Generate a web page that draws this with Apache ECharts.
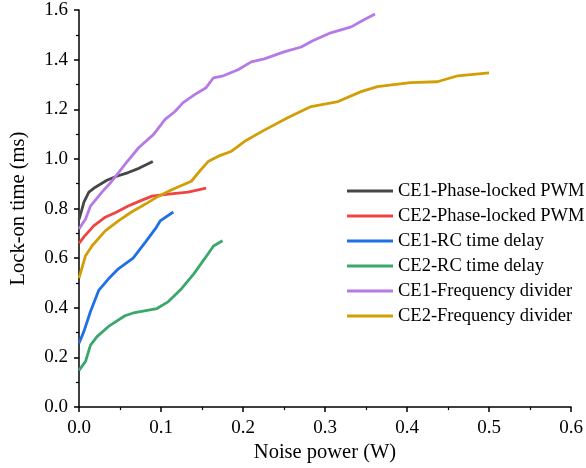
<!DOCTYPE html>
<html>
<head>
<meta charset="utf-8">
<script src="https://cdn.jsdelivr.net/npm/echarts@6/dist/echarts.min.js"></script>
<style>
  html, body { margin: 0; padding: 0; background: #fff; }
  #chart { width: 586px; height: 468px; }
</style>
</head>
<body>
<div id="chart"></div>
<script>
// series names, in legend order
const seriesNames = [
  'CE1-Phase-locked PWM',
  'CE2-Phase-locked PWM',
  'CE1-RC time delay',
  'CE2-RC time delay',
  'CE1-Frequency divider',
  'CE2-Frequency divider'
]

// [noise power (W), lock-on time (ms)]
const ce1Pwm = [[0, 0.755], [0.003, 0.79], [0.006, 0.826], [0.012, 0.866], [0.02, 0.886], [0.034, 0.914],
  [0.046, 0.93], [0.06, 0.945], [0.073, 0.962], [0.09, 0.99]]
const ce2Pwm = [[0, 0.66], [0.006, 0.686], [0.018, 0.73], [0.032, 0.765], [0.046, 0.786], [0.06, 0.81],
  [0.074, 0.83], [0.089, 0.85], [0.109, 0.858], [0.133, 0.866], [0.155, 0.882]]
const ce1Rc = [[0, 0.257], [0.006, 0.305], [0.014, 0.385], [0.024, 0.47], [0.036, 0.517], [0.048, 0.557],
  [0.066, 0.6], [0.081, 0.665], [0.093, 0.718], [0.099, 0.75], [0.115, 0.786]]
const ce2Rc = [[0, 0.148], [0.008, 0.184], [0.014, 0.25], [0.022, 0.284], [0.036, 0.325], [0.056, 0.368],
  [0.068, 0.381], [0.095, 0.397], [0.109, 0.425], [0.125, 0.477], [0.14, 0.537], [0.153, 0.597],
  [0.164, 0.649], [0.175, 0.67]]
const ce1Div = [[0, 0.718], [0.008, 0.758], [0.014, 0.81], [0.028, 0.866], [0.04, 0.91], [0.058, 0.986],
  [0.073, 1.046], [0.091, 1.099], [0.105, 1.159], [0.117, 1.191], [0.127, 1.227], [0.141, 1.259],
  [0.155, 1.287], [0.164, 1.327], [0.176, 1.335], [0.194, 1.359], [0.21, 1.391], [0.226, 1.403],
  [0.25, 1.431], [0.271, 1.451], [0.285, 1.476], [0.307, 1.508], [0.332, 1.532], [0.347, 1.56],
  [0.361, 1.584]]
const ce2Div = [[0, 0.52], [0.008, 0.61], [0.016, 0.65], [0.032, 0.71], [0.048, 0.75], [0.064, 0.786],
  [0.081, 0.818], [0.097, 0.85], [0.113, 0.876], [0.137, 0.91], [0.149, 0.958], [0.158, 0.991],
  [0.17, 1.011], [0.186, 1.031], [0.202, 1.071], [0.226, 1.116], [0.255, 1.167], [0.283, 1.211],
  [0.316, 1.231], [0.344, 1.271], [0.364, 1.291], [0.404, 1.307], [0.437, 1.311], [0.462, 1.335],
  [0.5, 1.347]]

const seriesData = [ce1Pwm, ce2Pwm, ce1Rc, ce2Rc, ce1Div, ce2Div]
const colors = ['#474747', '#f04444', '#1f6fe6', '#3aa86a', '#b57ae6', '#d29e06']

const font = '"Liberation Serif", "DejaVu Serif", serif'

const chart = echarts.init(document.getElementById('chart'))

const axisCommon = {
  axisLine: { lineStyle: { color: '#000', width: 1.5 } },
  axisTick: { inside: false, length: 5, lineStyle: { color: '#000', width: 1.5 } },
  minorTick: { show: true, splitNumber: 2, length: 3, lineStyle: { color: '#000', width: 1.2 } },
  splitLine: { show: false },
  axisLabel: { color: '#000', fontSize: 19, fontFamily: font, formatter: v => v.toFixed(1) },
  nameTextStyle: { color: '#000', fontSize: 20.5, fontFamily: font }
}

const option = {
  animation: false,
  color: colors,
  grid: { left: 77, right: 15, top: 10, bottom: 59 },
  legend: {
    data: seriesNames,
    orient: 'vertical',
    left: 342,
    top: 176,
    icon: 'rect',
    itemWidth: 46,
    itemHeight: 3,
    itemGap: 5,
    textStyle: { color: '#000', fontSize: 18.5, fontFamily: font, lineHeight: 20 }
  },
  xAxis: Object.assign({}, axisCommon, {
    type: 'value',
    min: 0,
    max: 0.6,
    interval: 0.1,
    name: 'Noise power (W)',
    nameLocation: 'middle',
    nameGap: 33,
    axisLabel: Object.assign({}, axisCommon.axisLabel, { margin: 11 })
  }),
  yAxis: Object.assign({}, axisCommon, {
    type: 'value',
    min: 0,
    max: 1.6,
    interval: 0.2,
    name: 'Lock-on time (ms)',
    nameLocation: 'middle',
    nameGap: 50,
    axisLabel: Object.assign({}, axisCommon.axisLabel, { margin: 11 })
  }),
  series: seriesData.map((d, i) => ({
    name: seriesNames[i],
    type: 'line',
    data: d,
    symbol: 'none',
    lineStyle: { width: 2.8 }
  }))
}

chart.setOption(option)
</script>
</body>
</html>
